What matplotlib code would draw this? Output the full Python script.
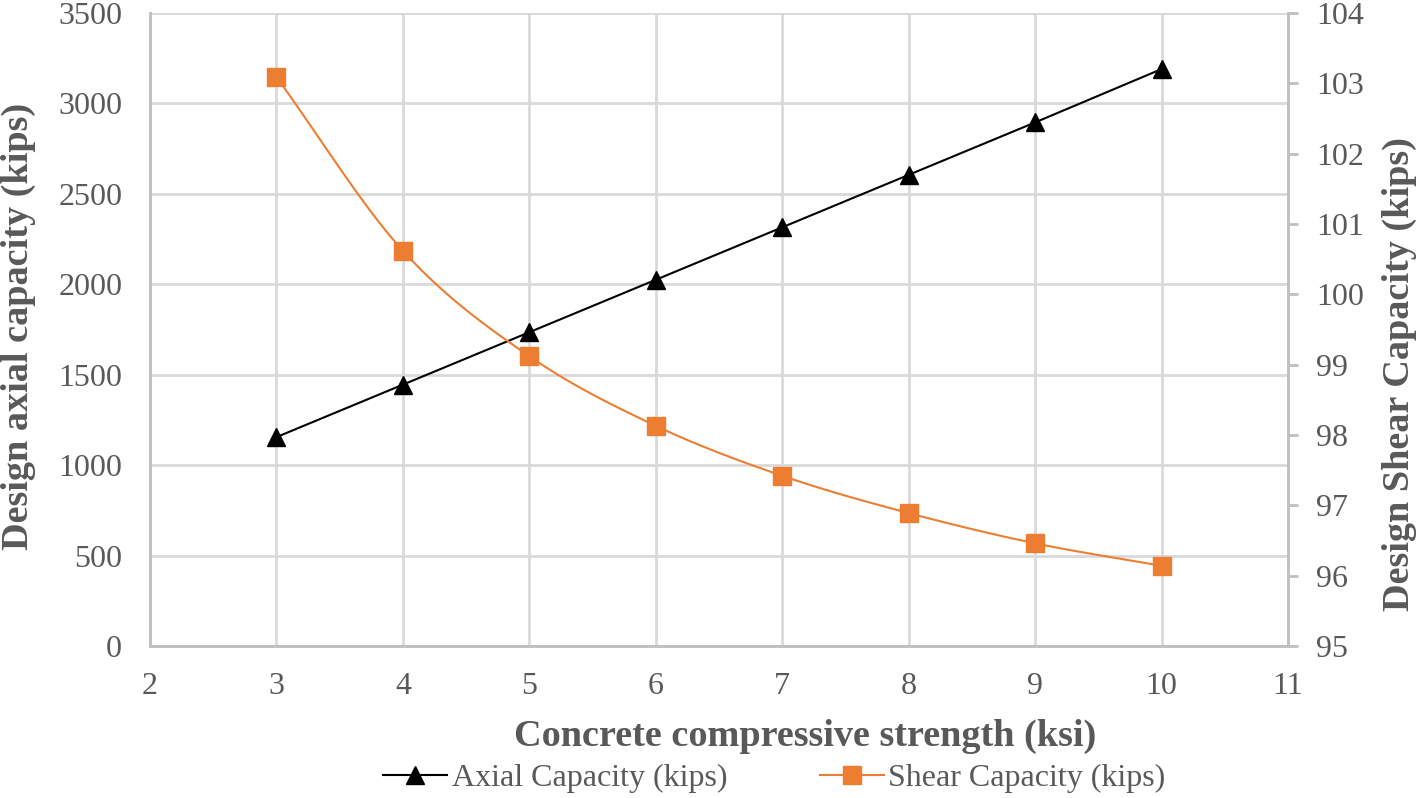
import numpy as np
import matplotlib
matplotlib.use("Agg")
import matplotlib.pyplot as plt
from matplotlib.lines import Line2D

strength = [3, 4, 5, 6, 7, 8, 9, 10]
axial = [1155, 1445, 1735, 2025, 2315, 2605, 2895, 3190]
shear = [103.09, 100.62, 99.12, 98.13, 97.42, 96.89, 96.46, 96.14]

x_ticks = [2, 3, 4, 5, 6, 7, 8, 9, 10, 11]
left_ticks = [0, 500, 1000, 1500, 2000, 2500, 3000, 3500]
right_ticks = [95, 96, 97, 98, 99, 100, 101, 102, 103, 104]

plt.rcParams['font.family'] = ['Liberation Serif', 'DejaVu Serif']
GRAY = '#595959'
GRID = '#d9d9d9'
ORANGE = '#ed7d31'
W, H = 1417, 798

fig = plt.figure(figsize=(W / 100, H / 100), dpi=100)
ax = fig.add_axes([150 / W, 1 - 646 / H, (1288 - 150) / W, (646 - 13) / H])
ax2 = ax.twinx()

ax.set_xlim(2, 11)
ax.set_ylim(0, 3500)
ax2.set_ylim(95, 104)
ax.set_xticks(x_ticks)
ax.set_yticks(left_ticks)
ax2.set_yticks(right_ticks)

ax.grid(True, color=GRID, linewidth=2)
ax.set_axisbelow(True)
for s in ['top', 'right']:
    ax.spines[s].set_visible(False)
for s in ['top', 'left', 'bottom']:
    ax2.spines[s].set_visible(False)
for sp in [ax.spines['left'], ax.spines['bottom'], ax2.spines['right']]:
    sp.set_color('#bfbfbf')
    sp.set_linewidth(2)

ax.tick_params(axis='x', length=0, labelsize=23, labelcolor=GRAY, pad=19)
ax.tick_params(axis='y', length=0, labelsize=23, labelcolor=GRAY, pad=20)
ax2.tick_params(axis='y', length=7, width=2, color='#bfbfbf', labelsize=23, labelcolor=GRAY, pad=13)

ax.plot(strength, axial, color='black', linewidth=1.5, marker='^', markersize=13.5, zorder=3)

# smooth curve (Catmull-Rom) through the shear points, like Excel's smoothed line
xs = np.array(strength, float)
ys = np.array(shear, float)
px = np.concatenate([[2 * xs[0] - xs[1]], xs, [2 * xs[-1] - xs[-2]]])
py = np.concatenate([[2 * ys[0] - ys[1]], ys, [2 * ys[-1] - ys[-2]]])
cx, cy = [], []
t = np.linspace(0, 1, 30)[:, None]
for i in range(1, len(px) - 2):
    p0, p1, p2, p3 = [np.array([px[j], py[j]]) for j in range(i - 1, i + 3)]
    pts = 0.5 * ((2 * p1) + (-p0 + p2) * t + (2 * p0 - 5 * p1 + 4 * p2 - p3) * t ** 2
                 + (-p0 + 3 * p1 - 3 * p2 + p3) * t ** 3)
    cx.extend(pts[:, 0]); cy.extend(pts[:, 1])
ax2.plot(cx, cy, color=ORANGE, linewidth=1.5, zorder=3)
ax2.plot(strength, shear, linestyle='none', marker='s', markersize=13, color=ORANGE, zorder=4)

fig.text(805 / W, 1 - 736 / H, 'Concrete compressive strength (ksi)', fontsize=27.5,
         fontweight='bold', color=GRAY, ha='center', va='center')
fig.text(18 / W, 1 - 326 / H, 'Design axial capacity (kips)', fontsize=27.5,
         fontweight='bold', color=GRAY, ha='center', va='center', rotation=90)
fig.text(1399 / W, 1 - 374 / H, 'Design Shear Capacity (kips)', fontsize=27.5,
         fontweight='bold', color=GRAY, ha='center', va='center', rotation=90)

handles = [Line2D([], [], color='black', marker='^', markersize=13.5, linewidth=1.5),
           Line2D([], [], color=ORANGE, marker='s', markersize=13, linewidth=1.5)]
fig.legend(handles, ['Axial Capacity (kips)', 'Shear Capacity (kips)'], loc='center left',
           bbox_to_anchor=(383 / W, 1 - 778 / H), ncol=2, frameon=False, fontsize=23,
           labelcolor=GRAY, handlelength=2.0, handletextpad=0.15, columnspacing=2.9,
           borderpad=0, borderaxespad=0)

fig.savefig('out.png', dpi=100)
